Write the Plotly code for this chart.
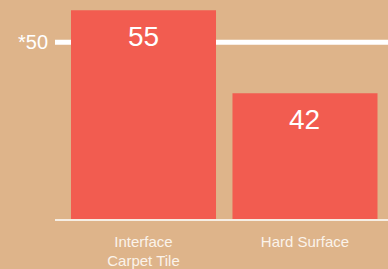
import plotly.graph_objects as go

categories = ["Interface<br>Carpet Tile", "Hard Surface"]
values = [55, 42]
reference_value = 50
reference_label = "*50"

BG = "#DEB48A"
BAR = "#F25C50"
TXT = "#FBF3EA"
FONT = "Liberation Sans, Arial, sans-serif"

xpos = list(range(len(categories)))

fig = go.Figure()
fig.add_trace(go.Bar(
    x=xpos, y=values, base=0, width=0.898,
    marker=dict(color=BAR, line=dict(width=0)),
    hoverinfo="skip",
))

for xi, v in zip(xpos, values):
    fig.add_annotation(
        x=xi, y=v, xref="x", yref="y", text=str(v), showarrow=False,
        yanchor="top", yshift=-9,
        font=dict(family=FONT, size=28, color="white"),
    )

fig.add_shape(
    type="line", xref="paper", yref="y", x0=0, x1=1,
    y0=reference_value, y1=reference_value,
    line=dict(color="white", width=5), layer="below",
)
fig.add_annotation(
    x=0, y=reference_value, xref="paper", yref="y", text=reference_label,
    showarrow=False, xanchor="right", xshift=-5,
    font=dict(family=FONT, size=20, color="white"),
)

fig.update_layout(
    width=388, height=269,
    margin=dict(l=55, r=0, t=0, b=48),
    paper_bgcolor=BG, plot_bgcolor=BG,
    showlegend=False,
    xaxis=dict(
        range=[-0.548, 1.514], tickvals=xpos, ticktext=categories,
        showgrid=False, zeroline=False, showline=True,
        linecolor="#F6EEE4", linewidth=1.5, ticks="",
        ticklabelstandoff=8,
        tickfont=dict(family=FONT, size=15, color=TXT),
        fixedrange=True,
    ),
    yaxis=dict(
        range=[22.32, 56.61], showgrid=False, zeroline=False,
        showticklabels=False, showline=False, fixedrange=True,
    ),
)

fig.write_html(
    "out.html",
    config={"displayModeBar": False},
    post_script="document.body.style.margin='0';document.body.style.background='" + BG + "';",
)
